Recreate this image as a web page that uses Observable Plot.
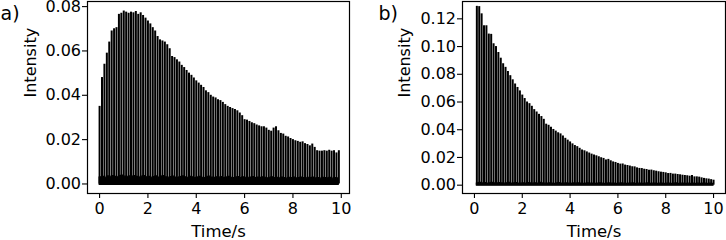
<!DOCTYPE html>
<html><head><meta charset="utf-8">
<script src="https://cdn.jsdelivr.net/npm/d3@7"></script>
<script src="https://cdn.jsdelivr.net/npm/@observablehq/plot@0.6"></script>
<style>
body{margin:0;background:#fff;}
#wrap{position:relative;width:726px;height:240px;overflow:hidden;font-family:"DejaVu Sans";}
#wrap svg{position:absolute;top:0;overflow:visible;background:none;max-width:none;}
#wrap svg, #wrap svg text{font-family:"DejaVu Sans" !important;}
</style></head><body><div id="wrap"></div>
<script>
// Panel a: pulse times (s) and peak intensities
const timesA = [0.0,0.1,0.2,0.3,0.4,0.5,0.6,0.7,0.8,0.9,1.0,1.1,1.2,1.3,1.4,1.5,1.6,1.7,1.8,1.9,2.0,2.1,2.2,2.3,2.4,2.5,2.6,2.7,2.8,2.9,3.0,3.1,3.2,3.3,3.4,3.5,3.6,3.7,3.8,3.9,4.0,4.1,4.2,4.3,4.4,4.5,4.6,4.7,4.8,4.9,5.0,5.1,5.2,5.3,5.4,5.5,5.6,5.7,5.8,5.9,6.0,6.1,6.2,6.3,6.4,6.5,6.6,6.7,6.8,6.9,7.0,7.1,7.2,7.3,7.4,7.5,7.6,7.7,7.8,7.9,8.0,8.1,8.2,8.3,8.4,8.5,8.6,8.7,8.8,8.9,9.0,9.1,9.2,9.3,9.4,9.5,9.6,9.7,9.8,9.9];
const peaksA = [0.0350,0.0480,0.0540,0.0590,0.0640,0.0690,0.0700,0.0705,0.0765,0.0770,
0.0780,0.0775,0.0770,0.0775,0.0772,0.0778,0.0765,0.0772,0.0760,0.0748,
0.0735,0.0722,0.0705,0.0690,0.0665,0.0650,0.0645,0.0640,0.0628,0.0610,
0.0575,0.0570,0.0560,0.0550,0.0535,0.0525,0.0512,0.0500,0.0490,0.0478,
0.0465,0.0455,0.0445,0.0435,0.0420,0.0412,0.0400,0.0392,0.0388,0.0380,
0.0376,0.0368,0.0358,0.0350,0.0345,0.0340,0.0336,0.0330,0.0320,0.0308,
0.0290,0.0288,0.0282,0.0276,0.0272,0.0266,0.0262,0.0258,0.0258,0.0252,
0.0242,0.0238,0.0252,0.0258,0.0240,0.0228,0.0225,0.0215,0.0212,0.0205,
0.0200,0.0195,0.0192,0.0188,0.0190,0.0182,0.0178,0.0172,0.0180,0.0165,
0.0150,0.0148,0.0148,0.0150,0.0148,0.0152,0.0148,0.0150,0.0140,0.0150];
// Panel a: low-level signal between pulses
const floorA = [0.0030,0.0032,0.0028,0.0034,0.0030,0.0036,0.0032,0.0030,0.0035,0.0038,
0.0033,0.0030,0.0034,0.0031,0.0036,0.0032,0.0029,0.0033,0.0035,0.0030,
0.0032,0.0028,0.0031,0.0034,0.0029,0.0032,0.0036,0.0030,0.0028,0.0031,
0.0033,0.0029,0.0027,0.0031,0.0034,0.0030,0.0028,0.0032,0.0030,0.0027,
0.0029,0.0032,0.0028,0.0026,0.0030,0.0033,0.0029,0.0027,0.0030,0.0028,
0.0031,0.0027,0.0029,0.0032,0.0028,0.0026,0.0029,0.0031,0.0027,0.0030,
0.0028,0.0025,0.0029,0.0031,0.0027,0.0029,0.0026,0.0030,0.0028,0.0025,
0.0028,0.0030,0.0026,0.0028,0.0025,0.0029,0.0027,0.0024,0.0028,0.0026,
0.0029,0.0025,0.0027,0.0029,0.0026,0.0024,0.0028,0.0026,0.0029,0.0025,
0.0027,0.0024,0.0028,0.0026,0.0025,0.0028,0.0024,0.0027,0.0025,0.0026];

// Panel b: pulse times (s) and peak intensities
const timesB = [0.1,0.2,0.3,0.4,0.5,0.6,0.7,0.8,0.9,1.0,1.1,1.2,1.3,1.4,1.5,1.6,1.7,1.8,1.9,2.0,2.1,2.2,2.3,2.4,2.5,2.6,2.7,2.8,2.9,3.0,3.1,3.2,3.3,3.4,3.5,3.6,3.7,3.8,3.9,4.0,4.1,4.2,4.3,4.4,4.5,4.6,4.7,4.8,4.9,5.0,5.1,5.2,5.3,5.4,5.5,5.6,5.7,5.8,5.9,6.0,6.1,6.2,6.3,6.4,6.5,6.6,6.7,6.8,6.9,7.0,7.1,7.2,7.3,7.4,7.5,7.6,7.7,7.8,7.9,8.0,8.1,8.2,8.3,8.4,8.5,8.6,8.7,8.8,8.9,9.0,9.1,9.2,9.3,9.4,9.5,9.6,9.7,9.8,9.9,10.0];
const peaksB = [0.1290,0.1288,0.1236,0.1150,0.1150,0.1090,0.1088,0.1020,0.1000,0.0957,
0.0916,0.0876,0.0850,0.0820,0.0790,0.0760,0.0730,0.0705,0.0680,0.0650,
0.0625,0.0600,0.0588,0.0569,0.0545,0.0528,0.0511,0.0495,0.0475,0.0440,
0.0432,0.0418,0.0402,0.0390,0.0378,0.0370,0.0355,0.0338,0.0325,0.0312,
0.0298,0.0286,0.0278,0.0266,0.0254,0.0248,0.0240,0.0232,0.0224,0.0217,
0.0212,0.0205,0.0198,0.0193,0.0182,0.0186,0.0176,0.0168,0.0164,0.0157,
0.0152,0.0153,0.0145,0.0142,0.0138,0.0133,0.0132,0.0125,0.0121,0.0120,
0.0115,0.0113,0.0108,0.0109,0.0104,0.0101,0.0097,0.0094,0.0092,0.0089,
0.0084,0.0085,0.0080,0.0080,0.0077,0.0075,0.0072,0.0070,0.0068,0.0065,
0.0070,0.0060,0.0060,0.0058,0.0053,0.0049,0.0046,0.0044,0.0040,0.0036];
const floorB = [0.0014,0.0016,0.0013,0.0015,0.0012,0.0014,0.0016,0.0013,0.0012,0.0015,
0.0013,0.0011,0.0014,0.0016,0.0012,0.0013,0.0015,0.0012,0.0011,0.0014,
0.0012,0.0015,0.0013,0.0011,0.0014,0.0012,0.0016,0.0013,0.0011,0.0012,
0.0014,0.0012,0.0010,0.0013,0.0015,0.0012,0.0011,0.0013,0.0012,0.0010,
0.0013,0.0011,0.0014,0.0012,0.0010,0.0012,0.0013,0.0011,0.0012,0.0010,
0.0012,0.0014,0.0011,0.0010,0.0012,0.0013,0.0011,0.0012,0.0010,0.0011,
0.0013,0.0011,0.0010,0.0012,0.0011,0.0013,0.0010,0.0011,0.0012,0.0010,
0.0011,0.0013,0.0010,0.0011,0.0012,0.0010,0.0011,0.0012,0.0010,0.0011,
0.0012,0.0010,0.0011,0.0013,0.0010,0.0011,0.0012,0.0010,0.0011,0.0010,
0.0012,0.0010,0.0011,0.0010,0.0012,0.0011,0.0010,0.0011,0.0010,0.0011];

const xTicks = [0, 2, 4, 6, 8, 10];
const yTicksA = [0.00, 0.02, 0.04, 0.06, 0.08];
const yTicksB = [0.00, 0.02, 0.04, 0.06, 0.08, 0.10, 0.12];
const panelLabels = ["a)", "b)"];
const xLabel = "Time/s";
const yLabel = "Intensity";
const FONT = "DejaVu Sans";

function panel({times, peaks, floor, yTicks, xDomain, yDomain, width, marginLeft, marginRight, label, labelDx, ylabDx}) {
  return Plot.plot({
    width, height: 240,
    marginLeft, marginRight, marginTop: 1, marginBottom: 47,
    style: {fontFamily: FONT, fontSize: "16px", color: "black", background: "none", overflow: "visible"},
    x: {domain: xDomain},
    y: {domain: yDomain},
    marks: [
      Plot.ruleX(peaks, {x: times, y1: 0, y2: peaks, stroke: "black", strokeWidth: 2.0}),
      Plot.areaY(floor, {x: times, y1: -0.0004, y2: floor, curve: "step-after", fill: "black", stroke: "black", strokeWidth: 1.2}),
      Plot.frame({stroke: "black", strokeWidth: 1.2}),
      Plot.axisX({ticks: xTicks, tickFormat: d3.format("d"), tickSize: 5, tickPadding: 4.5, label: null, fontSize: 16, fontFamily: FONT, strokeWidth: 1.1}),
      Plot.axisY({ticks: yTicks, tickFormat: d3.format(".2f"), tickSize: 5, tickPadding: 1.5, label: null, fontSize: 16, fontFamily: FONT, strokeWidth: 1.1}),
      Plot.text([yLabel], {frameAnchor: "left", rotate: -90, dx: ylabDx, fontSize: 16, fontFamily: FONT, fill: "black"}),
      Plot.text([xLabel], {frameAnchor: "bottom", dy: 38, lineAnchor: "middle", fontSize: 16.5, fontFamily: FONT, fill: "black"}),
      Plot.text([label], {frameAnchor: "top-left", dx: labelDx, dy: 5, textAnchor: "start", lineAnchor: "top", fontSize: 19, fontFamily: FONT, fill: "black"})
    ]
  });
}

const wrap = document.getElementById("wrap");
const a = panel({times: timesA, peaks: peaksA, floor: floorA, yTicks: yTicksA,
  xDomain: [-0.5, 10.34], yDomain: [-0.0043, 0.0823], width: 360, marginLeft: 87, marginRight: 11,
  label: panelLabels[0], labelDx: -87, ylabDx: -57});
a.style.left = "0px";
wrap.appendChild(a);
const b = panel({times: timesB, peaks: peaksB, floor: floorB, yTicks: yTicksB,
  xDomain: [-0.5, 10.5], yDomain: [-0.006, 0.1325], width: 366, marginLeft: 102, marginRight: 1,
  label: panelLabels[1], labelDx: -84, ylabDx: -58});
b.style.left = "360px";
wrap.appendChild(b);
</script></body></html>
